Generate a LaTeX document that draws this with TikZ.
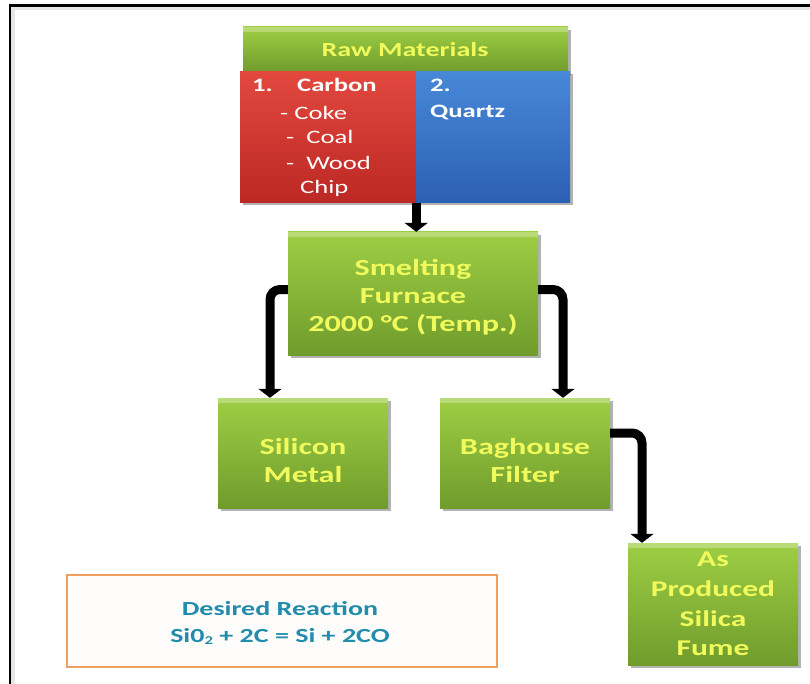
\documentclass[tikz,border=0pt]{standalone}
\usepackage{fontspec}
\newfontfamily\wide[FakeStretch=1.4]{Carlito}
\usetikzlibrary{arrows.meta,shadows}
\definecolor{gtop}{RGB}{158,206,68}
\definecolor{gbot}{RGB}{112,156,44}
\definecolor{rtop}{RGB}{226,72,62}
\definecolor{rbot}{RGB}{188,40,36}
\definecolor{btop}{RGB}{72,136,216}
\definecolor{bbot}{RGB}{44,96,180}
\definecolor{ytxt}{RGB}{240,250,92}
\definecolor{teal}{RGB}{34,140,172}
\definecolor{orng}{RGB}{238,160,92}
\tikzset{
  box/.style={draw=none, inner sep=0pt, minimum width=#1,
    drop shadow={shadow xshift=2.5pt, shadow yshift=-3pt, opacity=.3, fill=black}},
  greenbox/.style={box=#1, top color=gtop, bottom color=gbot,
    path picture={\fill[white,opacity=.28] (path picture bounding box.north west) rectangle ([yshift=-5pt]path picture bounding box.north east);}},
  redbox/.style={box=#1, top color=rtop, bottom color=rbot},
  bluebox/.style={box=#1, top color=btop, bottom color=bbot},
  ytext/.style={text=ytxt, inner sep=0pt, align=center, font=\wide\bfseries\fontsize{23}{28}\selectfont},
  wtext/.style={text=white, inner sep=0pt, anchor=base west, font=\wide\fontsize{19}{19}\selectfont},
  wbold/.style={wtext, font=\wide\bfseries\fontsize{19}{19}\selectfont},
  conn/.style={line width=9pt, rounded corners=10pt, -{Triangle[width=23pt,length=9pt]}}
}
\begin{document}
\begin{tikzpicture}[x=1pt,y=-1pt]
\useasboundingbox (0,0) rectangle (810,684);
\fill[white] (0,0) rectangle (810,684);
% frame
\draw[black!10, line width=3.5pt] (13,684) -- (13,8.5) -- (810,8.5);
\draw[black, line width=2.5pt] (10,684) -- (10,5.5) -- (810,5.5);

% boxes
\node[greenbox=325pt, minimum height=45pt] (raw) at (405.5,49.5) {};
\node[redbox=176pt, minimum height=131pt] (carbon) at (328,137) {};
\node[bluebox=154pt, minimum height=131pt] (quartz) at (493,137) {};
\node[greenbox=250pt, minimum height=123pt] (smelt) at (413,293.5) {};
\node[greenbox=170pt, minimum height=110pt] (silicon) at (303,453) {};
\node[greenbox=170pt, minimum height=110pt] (bag) at (525,453) {};
\node[greenbox=170pt, minimum height=122pt] (fume) at (713,604) {};
\node[draw=orng, line width=2.5pt, fill={rgb,255:red,254;green,253;blue,251}, minimum width=430pt, minimum height=92pt] (react) at (282,621) {};

% texts
\node[ytext, anchor=base, font=\wide\bfseries\fontsize{20}{20}\selectfont] (rawt) at (405,57) {Raw Materials};
\node[wbold] (c1) at (252,92) {1.};
\node[wbold] (c1b) at (297,92) {Carbon};
\node[wtext] (c2) at (280,120) {- Coke};
\node[wtext] (c3) at (286,144) {-\ \ Coal};
\node[wtext] (c4) at (286,170) {-\ \ Wood};
\node[wtext] (c5) at (300,194) {Chip};
\node[wbold] (q1) at (430,92) {2.};
\node[wbold] (q2) at (430,118) {Quartz};
\node[ytext] (smeltt) at (413,297) {Smelting\\Furnace\\2000 °C (Temp.)};
\node[ytext] (silt) at (303,461) {Silicon\\Metal};
\node[ytext] (bagt) at (525,461) {Baghouse\\Filter};
\node[ytext, font=\wide\bfseries\fontsize{22.5}{29.7}\selectfont] (fumet) at (713,604) {As\\Produced\\Silica\\Fume};
\node[text=teal, inner sep=0pt, align=center, font=\wide\bfseries\fontsize{20}{27}\selectfont] (reactt) at (280,623)
  {Desired Reaction\\Si0{\fontsize{12}{12}\selectfont\raisebox{-2pt}{2}} + 2C = Si + 2CO};

% connector helper coordinates
\coordinate (lx) at (270,0);
\coordinate (rx) at (563,0);
\coordinate (fx) at (642,0);
\coordinate (sw) at ([yshift=4pt]smelt.west);
\coordinate (se) at ([yshift=4pt]smelt.east);
\coordinate (be) at ([yshift=20pt]bag.east);

% connectors
\draw[conn] (carbon.south east) -- (carbon.south east |- smelt.north);
\draw[conn] (sw) -- (sw -| lx) -- (lx |- silicon.north);
\draw[conn] (se) -- (se -| rx) -- (rx |- bag.north);
\draw[conn] (be) -- (be -| fx) -- (fx |- fume.north);
\end{tikzpicture}
\end{document}
